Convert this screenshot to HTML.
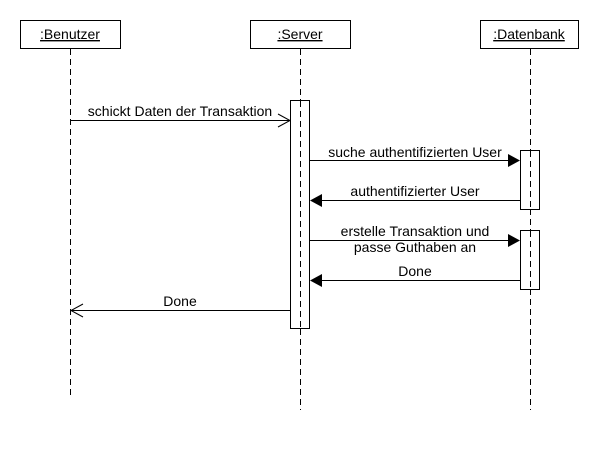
<!DOCTYPE html>
<html><head><meta charset="utf-8"><style>
html,body{margin:0;padding:0;background:#fff}
svg{display:block}
text{font-family:"Liberation Sans",Arial,sans-serif;font-size:14px;fill:#000}
</style></head><body>
<svg width="600" height="450" viewBox="0 0 600 450" xmlns="http://www.w3.org/2000/svg">
<rect width="600" height="450" fill="#fff"/>
<g stroke="#000" stroke-width="1" fill="#fff">
<rect x="20.5" y="20.5" width="100" height="28"/>
<rect x="250.5" y="20.5" width="100" height="28"/>
<rect x="480.5" y="20.5" width="98" height="28"/>
</g>
<text x="70" y="39" text-anchor="middle" text-decoration="underline">:Benutzer</text>
<text x="300" y="39" text-anchor="middle" text-decoration="underline">:Server</text>
<text x="529" y="39" text-anchor="middle" text-decoration="underline">:Datenbank</text>
<g stroke="#000" stroke-dasharray="6,4" fill="none">
<line x1="70.5" y1="49" x2="70.5" y2="398"/>
<line x1="300.5" y1="49" x2="300.5" y2="410"/>
<line x1="530.5" y1="49" x2="530.5" y2="410"/>
</g>
<g stroke="#000" fill="#fff">
<rect x="290.5" y="100.5" width="19" height="228"/>
<rect x="520.5" y="150.5" width="19" height="59"/>
<rect x="520.5" y="230.5" width="19" height="59"/>
</g>
<g stroke="#000" stroke-dasharray="6,4" fill="none">
<line x1="300.5" y1="101" x2="300.5" y2="328"/>
<line x1="530.5" y1="151" x2="530.5" y2="209"/>
<line x1="530.5" y1="231" x2="530.5" y2="289"/>
</g>
<g stroke="#000" fill="none">
<line x1="70" y1="120.5" x2="290" y2="120.5"/>
<polyline points="278,114 290,120.5 278,127"/>
<line x1="310" y1="160.5" x2="508" y2="160.5"/>
<line x1="322" y1="200.5" x2="520" y2="200.5"/>
<line x1="310" y1="240.5" x2="508" y2="240.5"/>
<line x1="322" y1="280.5" x2="520" y2="280.5"/>
<line x1="290" y1="310.5" x2="71" y2="310.5"/>
<polyline points="83,304 71,310.5 83,317"/>
</g>
<g fill="#000">
<polygon points="508,154 520,160.5 508,167"/>
<polygon points="322,194 310,200.5 322,207"/>
<polygon points="508,234 520,240.5 508,247"/>
<polygon points="322,274 310,280.5 322,287"/>
</g>
<text x="180" y="116" text-anchor="middle">schickt Daten der Transaktion</text>
<text x="415" y="157" text-anchor="middle">suche authentifizierten User</text>
<text x="415" y="196" text-anchor="middle">authentifizierter User</text>
<text x="415" y="236" text-anchor="middle">erstelle Transaktion und</text>
<text x="415" y="252" text-anchor="middle">passe Guthaben an</text>
<text x="415" y="276" text-anchor="middle">Done</text>
<text x="180" y="306" text-anchor="middle">Done</text>
</svg>
</body></html>
